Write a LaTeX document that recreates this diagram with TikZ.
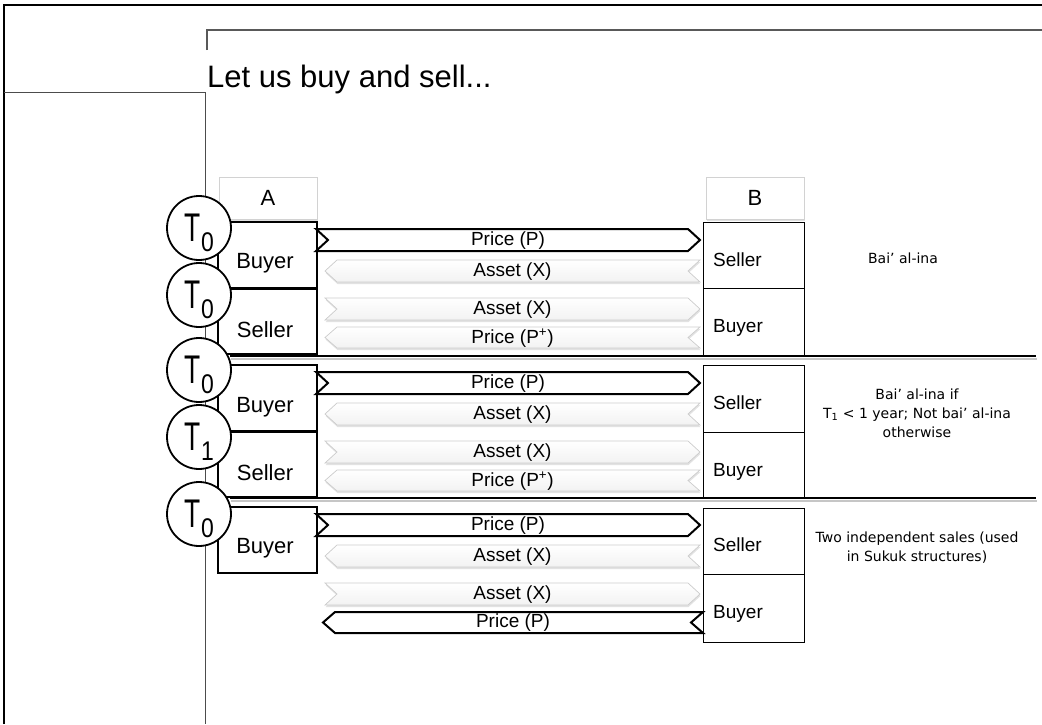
\documentclass[tikz,border=0pt]{standalone}
\usepackage{fontspec}
\setmainfont{Liberation Sans}
\newfontfamily\dvs{DejaVu Sans}
\usetikzlibrary{shadows}

\newcommand\chevR[7]{%
  \path[#1] (#2,#4) -- ({#3-12},#4) -- (#3,{(#4+#5)/2}) -- ({#3-12},#5) -- (#2,#5) -- ({#2+12},{(#4+#5)/2}) -- cycle;
  \node[alab] (#6) at ({(#2+#3)/2},{(#4+#5)/2+0.5}) {#7};}
\newcommand\chevL[7]{%
  \path[#1] (#2,{(#4+#5)/2}) -- ({#2+12},#4) -- (#3,#4) -- ({#3-12},{(#4+#5)/2}) -- (#3,#5) -- ({#2+12},#5) -- cycle;
  \node[alab] (#6) at ({(#2+#3)/2},{(#4+#5)/2+0.5}) {#7};}
\newcommand\Tlab[1]{\scalebox{0.66}[1]{\fontsize{40}{40}\selectfont T}\kern1pt\raisebox{-10pt}{\scalebox{0.85}[1]{\fontsize{27}{27}\selectfont #1}}}

\begin{document}
\begin{tikzpicture}[x=1pt,y=-1pt,
  lbox/.style={draw=black, line width=1.6pt, minimum width=99pt, inner sep=0},
  rbox/.style={draw=black, line width=0.8pt, minimum width=101pt, inner sep=0},
  hbox/.style={draw=gray!35, fill=white, line width=0.8pt,
     drop shadow={shadow xshift=1pt, shadow yshift=-1.5pt, fill=gray!40, opacity=0.6},
     minimum width=98pt, minimum height=42pt, inner sep=0, font=\fontsize{22}{26}\selectfont},
  thin/.style={top color=white, bottom color=gray!10, draw=gray!40, line width=0.7pt,
     drop shadow={shadow xshift=0.5pt, shadow yshift=-2pt, fill=gray!45, opacity=0.5}},
  thick/.style={fill=white, draw=black, line width=2pt},
  alab/.style={inner sep=0, font=\fontsize{19}{21}\selectfont},
  llab/.style={inner sep=0, font=\fontsize{22}{24}\selectfont},
  rlab/.style={inner sep=0, anchor=west, font=\fontsize{19}{22}\selectfont},
  clab/.style={inner sep=0, align=center, font=\dvs\fontsize{14}{19}\selectfont},
  tcirc/.style={circle, draw=black, line width=1.8pt, fill=white, minimum size=64pt, inner sep=0},
  sep/.style={draw=black, line width=2.5pt},
  sepsh/.style={draw=gray!45, line width=2pt}
]
\useasboundingbox (0,0) rectangle (1042,724);

% frame lines
\draw[line width=2.5pt] (4,724) -- (4,5) -- (1042,5);
\draw[draw=black!65, line width=2pt] (207,50) -- (207,30) -- (1042,30);
\draw[draw=black!70, line width=1.2pt] (4,92.5) -- (205.5,92.5) -- (205.5,724);
\node[inner sep=0, anchor=base west, font=\fontsize{31}{34}\selectfont] (title) at (207,87) {Let us buy and sell...};

% header boxes
\node[hbox] (A) at (268,198) {A};
\node[hbox] (B) at (755,198) {B};

% left boxes
\node[lbox, minimum height=66pt] (LB1) at (267.5,255) {};
\node[lbox, minimum height=66pt] (LS1) at (267.5,321) {};
\node[lbox, minimum height=66pt] (LB2) at (267.5,398) {};
\node[lbox, minimum height=66pt] (LS2) at (267.5,464) {};
\node[lbox, minimum height=66pt] (LB3) at (267.5,540) {};
\draw[line width=3pt] (LB1.south west) -- (LB1.south east);
\draw[line width=3pt] (LB2.south west) -- (LB2.south east);

\node[llab] (tLB1) at (265,263) {Buyer};
\node[llab] (tLS1) at (265,330) {Seller};
\node[llab] (tLB2) at (265,407) {Buyer};
\node[llab] (tLS2) at (265,473) {Seller};
\node[llab] (tLB3) at (265,548) {Buyer};

% right boxes
\node[rbox, minimum height=66pt] (RS1) at (753.5,255) {};
\node[rbox, minimum height=67pt] (RB1) at (753.5,321.5) {};
\node[rbox, minimum height=67pt] (RS2) at (753.5,398.5) {};
\node[rbox, minimum height=66pt] (RB2) at (753.5,465) {};
\node[rbox, minimum height=66pt] (RS3) at (753.5,541) {};
\node[rbox, minimum height=68pt] (RB3) at (753.5,608) {};

\node[rlab] (tRS1) at (713,260) {Seller};
\node[rlab] (tRB1) at (713,328) {Buyer};
\node[rlab] (tRS2) at (713,403) {Seller};
\node[rlab] (tRB2) at (713,472) {Buyer};
\node[rlab] (tRS3) at (713,545) {Seller};
\node[rlab] (tRB3) at (713,614) {Buyer};

% group 1 arrows
\chevR{thick}{316}{700}{229}{251}{a11}{Price (P)}
\chevL{thin}{325}{700}{260}{282}{a12}{Asset (X)}
\chevR{thin}{325}{700}{298}{320}{a13}{Asset (X)}
\chevL{thin}{325}{700}{327}{348}{a14}{Price (P\textsuperscript{+})}
% group 2
\chevR{thick}{316}{700}{372}{394}{a21}{Price (P)}
\chevL{thin}{325}{700}{403}{425}{a22}{Asset (X)}
\chevR{thin}{325}{700}{441}{463}{a23}{Asset (X)}
\chevL{thin}{325}{700}{470}{491}{a24}{Price (P\textsuperscript{+})}
% group 3
\chevR{thick}{316}{700}{514}{536}{a31}{Price (P)}
\chevL{thin}{325}{700}{545}{567}{a32}{Asset (X)}
\chevR{thin}{325}{700}{583}{605}{a33}{Asset (X)}
\chevL{thick}{323}{703}{612}{633}{a34}{Price (P)}

% separators
\draw[sepsh] (231,358.5) -- (1037,358.5);
\draw[sep] (230,356) -- (1036,356);
\draw[sepsh] (231,500.5) -- (1037,500.5);
\draw[sep] (230,498) -- (1036,498);

% comments
\node[clab] (c1) at (903,258) {Bai’ al-ina};
\node[clab] (c2) at (917,413) {Bai’ al-ina if\\T\textsubscript{1} < 1 year; Not bai’ al-ina\\otherwise};
\node[clab] (c3) at (917,548) {Two independent sales (used\\in Sukuk structures)};

% time circles
\node[tcirc] (T1) at (199,228) {};
\node[tcirc] (T2) at (199,295) {};
\node[tcirc] (T3) at (199,370) {};
\node[tcirc] (T4) at (199,437) {};
\node[tcirc] (T5) at (199,514) {};
\node[inner sep=0] (tT1) at ([yshift=-4.5pt]T1.center) {\Tlab{0}};
\node[inner sep=0] (tT2) at ([yshift=-4.5pt]T2.center) {\Tlab{0}};
\node[inner sep=0] (tT3) at ([yshift=-4.5pt]T3.center) {\Tlab{0}};
\node[inner sep=0] (tT4) at ([yshift=-4.5pt]T4.center) {\Tlab{1}};
\node[inner sep=0] (tT5) at ([yshift=-4.5pt]T5.center) {\Tlab{0}};
\end{tikzpicture}
\end{document}
